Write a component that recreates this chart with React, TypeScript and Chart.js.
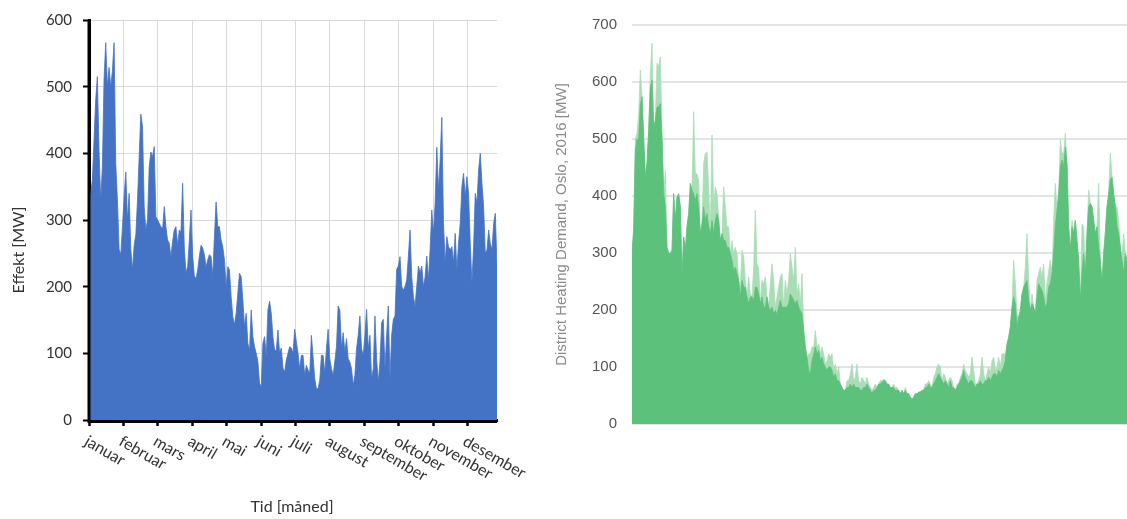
import React, { useEffect, useRef } from "react";
import { Chart, registerables } from "chart.js";

Chart.register(...registerables);

// ---------- Labels ----------
const MONTHS = [
  "januar", "februar", "mars", "april", "mai", "juni",
  "juli", "august", "september", "oktober", "november", "desember",
];
const LEFT_Y_MAX = 600;
const RIGHT_Y_MAX = 700;
const Y_STEP = 100;
const LEFT_Y_TITLE = "Effekt [MW]";
const LEFT_X_TITLE = "Tid [måned]";
const RIGHT_Y_TITLE = "District Heating Demand, Oslo, 2016 [MW]";
// the plotted span of the left axis, in months (last month is cut short)
const LEFT_SPAN_MONTHS = 11.86;

// ---------- Left chart: Effekt [MW] (blue) ----------
const LEFT_MW_JAN_JUN = [
  335, 340, 360, 420, 480, 515, 404, 330, 380, 512,
  566, 500, 529, 500, 524, 566, 385, 330, 256, 248,
  290, 335, 372, 300, 340, 256, 226, 262, 278, 330,
  395, 459, 440, 320, 285, 300, 380, 402, 395, 410,
  305, 300, 295, 290, 286, 320, 290, 270, 265, 245,
  268, 285, 290, 262, 285, 282, 355, 258, 221, 230,
  270, 315, 246, 216, 212, 225, 246, 262, 258, 248,
  230, 240, 248, 245, 216, 275, 327, 290, 290, 270,
  260, 240, 200, 230, 225, 185, 155, 143, 160, 190,
  220, 215, 180, 140, 160, 115, 104, 165, 125, 110,
  100, 88, 55, 50, 115, 125, 95, 165, 178, 160,
  125, 105, 104, 135, 100, 108, 78, 72, 90, 100,
  110, 108,
];
const LEFT_MW_JUL_DEC = [
  100, 136, 117, 100, 77, 97, 97, 67, 82, 75,
  70, 127, 95, 62, 47, 47, 60, 97, 97, 70,
  107, 136, 92, 77, 67, 88, 110, 171, 165, 108,
  131, 102, 122, 92, 87, 77, 52, 67, 107, 127,
  156, 107, 97, 127, 166, 107, 127, 62, 77, 156,
  92, 57, 87, 146, 151, 77, 127, 171, 62, 127,
  151, 156, 226, 231, 245, 200, 195, 200, 210, 246,
  285, 215, 185, 171, 200, 231, 221, 231, 200, 215,
  246, 210, 256, 315, 280, 325, 409, 345, 390, 454,
  295, 236, 275, 260, 255, 260, 236, 280, 226, 265,
  295, 350, 370, 335, 365, 340, 265, 206, 260, 340,
  325, 375, 400, 355, 320, 250, 255, 285, 265, 255,
  295, 310, 230,
];

// ---------- Right chart: District Heating Demand (green) ----------
// body (solid green)
const RIGHT_BODY_JAN_JUN = [
  300,
  340, 480, 500, 498, 560, 574, 504, 433, 457, 515,
  590, 603, 521, 533, 556, 556, 562, 504, 404, 381,
  310, 299, 299, 305, 404, 357, 398, 404, 381, 258,
  328, 305, 346, 369, 422, 410, 404, 393, 404, 381,
  334, 351, 381, 357, 369, 346, 334, 357, 334, 357,
  369, 357, 322, 334, 322, 322, 310, 310, 299, 287,
  269, 275, 264, 252, 223, 252, 240, 240, 223, 211,
  223, 223, 217, 240, 240, 228, 211, 223, 205, 205,
  223, 205, 199, 205, 193, 199, 193, 205, 217, 205,
  205, 205, 205, 211, 228, 223, 217, 211, 217, 205,
  199, 193, 164, 135, 117, 94, 88, 111, 123, 135,
  123, 129, 111, 117, 105, 100, 94, 100, 100, 94,
  82, 88, 76, 76, 70, 64, 59, 59, 64, 64,
  70, 64, 70, 64, 64, 64, 59, 59, 64, 64,
  70, 64, 59, 53, 59, 59, 64,
];
const RIGHT_BODY_JUL_DEC = [
  70, 70, 73, 76, 76, 70, 70, 64, 64, 64,
  59, 59, 59, 53, 59, 53, 59, 53, 53, 47,
  44, 47, 53, 53, 56, 56, 59, 59, 64, 64,
  70, 64, 64, 70, 76, 82, 88, 82, 76, 70,
  76, 70, 64, 76, 64, 64, 59, 64, 70, 76,
  82, 94, 82, 76, 70, 76, 76, 70, 64, 70,
  70, 76, 70, 70, 76, 76, 82, 76, 82, 88,
  88, 82, 94, 88, 94, 100, 111, 140, 152, 170,
  205, 223, 211, 170, 187, 199, 228, 240, 246, 252,
  217, 199, 211, 205, 193, 223, 246, 240, 234, 223,
  205, 211, 240, 246, 264, 299, 346, 375, 404, 451,
  463, 451, 486, 457, 346, 305, 346, 334, 357, 322,
  287, 217, 264, 299, 264, 334, 381, 387, 381, 357,
  334, 346, 310, 287, 246, 299, 334, 381, 404, 428,
  433, 404, 381, 346, 334, 310, 287, 264, 299, 287,
];
// peaks (pale green envelope behind the body)
const RIGHT_PEAK_JAN_JUN = [
  300,
  340, 500, 510, 540, 621, 574, 504, 433, 457, 515,
  615, 668, 521, 533, 633, 627, 644, 504, 404, 445,
  310, 299, 299, 305, 404, 357, 398, 404, 381, 258,
  328, 305, 346, 369, 422, 410, 548, 439, 439, 428,
  334, 351, 457, 475, 477, 416, 334, 507, 381, 416,
  404, 363, 322, 334, 416, 381, 346, 346, 299, 322,
  299, 310, 299, 252, 240, 305, 293, 252, 223, 258,
  228, 223, 275, 375, 281, 275, 211, 252, 246, 258,
  223, 205, 246, 281, 252, 205, 223, 240, 258, 264,
  205, 252, 228, 252, 299, 275, 252, 310, 228, 246,
  211, 264, 164, 135, 117, 123, 123, 135, 135, 164,
  135, 141, 123, 135, 123, 105, 111, 123, 117, 123,
  94, 105, 88, 100, 70, 64, 59, 59, 76, 76,
  88, 105, 76, 82, 105, 76, 70, 82, 76, 70,
  82, 70, 64, 59, 64, 70, 64,
];
const RIGHT_PEAK_JUL_DEC = [
  70, 76, 76, 79, 76, 70, 70, 64, 64, 70,
  64, 64, 59, 53, 59, 53, 64, 53, 53, 47,
  44, 47, 53, 53, 56, 56, 59, 59, 70, 70,
  76, 70, 64, 82, 88, 100, 105, 100, 76, 88,
  82, 70, 76, 82, 76, 64, 59, 70, 70, 82,
  88, 105, 94, 88, 82, 88, 117, 94, 70, 70,
  76, 88, 117, 88, 76, 88, 100, 88, 111, 117,
  94, 100, 117, 100, 123, 123, 123, 140, 152, 170,
  205, 287, 246, 193, 187, 199, 228, 240, 275, 334,
  252, 199, 228, 205, 193, 252, 264, 275, 258, 281,
  217, 246, 269, 287, 264, 357, 422, 375, 404, 498,
  475, 475, 510, 457, 346, 305, 357, 334, 357, 322,
  287, 217, 351, 346, 264, 334, 410, 387, 381, 357,
  334, 346, 422, 287, 246, 299, 340, 381, 404, 475,
  433, 404, 381, 381, 357, 310, 287, 334, 299, 287,
];

const LEFT_W = 540;
const RIGHT_W = 587;
const H = 519;

const leftLabelsPlugin = {
  id: "leftLabels",
  afterDatasetsDraw(chart: any) {
    // axis lines sit on top of the filled area, as in the original
    const { ctx, chartArea } = chart;
    ctx.save();
    ctx.strokeStyle = "#000000";
    ctx.lineWidth = 3;
    ctx.beginPath();
    ctx.moveTo(chartArea.left, chartArea.top);
    ctx.lineTo(chartArea.left, chartArea.bottom + 1.5);
    ctx.lineTo(chartArea.right, chartArea.bottom + 1.5);
    ctx.stroke();
    ctx.restore();
  },
  afterDraw(chart: any) {
    const { ctx } = chart;
    const xs = chart.scales.x;
    ctx.save();
    ctx.fillStyle = "#333333";
    ctx.font = "16px Lato";
    ctx.textAlign = "left";
    ctx.textBaseline = "top";
    MONTHS.forEach((m, i) => {
      const px = xs.getPixelForValue(i);
      ctx.save();
      ctx.translate(px + 1, 433);
      ctx.rotate((30 * Math.PI) / 180);
      ctx.fillText(m, 0, 0);
      ctx.restore();
    });
    ctx.textAlign = "center";
    ctx.textBaseline = "middle";
    ctx.fillText(LEFT_X_TITLE, 292, 507);
    ctx.save();
    ctx.translate(19, 250);
    ctx.rotate(-Math.PI / 2);
    ctx.fillText(LEFT_Y_TITLE, 0, 0);
    ctx.restore();
    ctx.restore();
  },
};

const rightTitlePlugin = {
  id: "rightTitle",
  afterDraw(chart: any) {
    const { ctx, chartArea } = chart;
    ctx.save();
    ctx.fillStyle = "#8a8a8a";
    ctx.font = "15px 'Liberation Sans'";
    ctx.textAlign = "center";
    ctx.textBaseline = "middle";
    ctx.translate(22, (chartArea.top + chartArea.bottom) / 2);
    ctx.rotate(-Math.PI / 2);
    ctx.fillText(RIGHT_Y_TITLE, 0, 0);
    ctx.restore();
  },
};

export default function App() {
  const leftRef = useRef<HTMLCanvasElement>(null);
  const rightRef = useRef<HTMLCanvasElement>(null);

  useEffect(() => {
    const leftValues = [...LEFT_MW_JAN_JUN, ...LEFT_MW_JUL_DEC];
    const lStep = LEFT_SPAN_MONTHS / (leftValues.length - 1);
    const left = new Chart(leftRef.current as HTMLCanvasElement, {
      type: "line",
      data: {
        datasets: [
          {
            data: leftValues.map((v, i) => ({ x: i * lStep, y: v })),
            fill: "origin",
            backgroundColor: "#4472C4",
            borderColor: "#4472C4",
            borderWidth: 0.8,
            pointRadius: 0,
            tension: 0,
          },
        ],
      },
      options: {
        responsive: false,
        animation: false,
        layout: { padding: { left: 0, top: 17, right: LEFT_W - 497, bottom: 0 } },
        plugins: { legend: { display: false }, tooltip: { enabled: false } },
        scales: {
          x: {
            type: "linear",
            min: 0,
            max: LEFT_SPAN_MONTHS,
            afterBuildTicks: (s: any) => {
              s.ticks = MONTHS.map((_, i) => ({ value: i }));
            },
            afterFit: (s: any) => {
              s.height = H - 420;
            },
            ticks: { display: false },
            grid: {
              color: "#d9d9d9",
              lineWidth: 1,
              drawTicks: true,
              tickLength: 6,
              tickColor: "#000000",
              tickWidth: 2.5,
            },
            border: { display: true, color: "#000000", width: 3 },
          },
          y: {
            min: 0,
            max: LEFT_Y_MAX,
            afterFit: (s: any) => {
              s.width = 89;
            },
            ticks: {
              stepSize: Y_STEP,
              font: { family: "Lato", size: 15 },
              color: "#333333",
              padding: 11,
            },
            grid: {
              color: "#d9d9d9",
              lineWidth: 1,
              tickLength: 6,
              tickColor: "#000000",
              tickWidth: 2,
            },
            border: { display: true, color: "#000000", width: 3 },
          },
        },
      },
      plugins: [leftLabelsPlugin],
    } as any);

    const body = [...RIGHT_BODY_JAN_JUN, ...RIGHT_BODY_JUL_DEC];
    const peak = [...RIGHT_PEAK_JAN_JUN, ...RIGHT_PEAK_JUL_DEC];
    const right = new Chart(rightRef.current as HTMLCanvasElement, {
      type: "line",
      data: {
        datasets: [
          {
            data: body.map((v, i) => ({ x: i, y: v })),
            fill: "origin",
            backgroundColor: "#5CC17A",
            borderColor: "#5CC17A",
            borderWidth: 0.8,
            pointRadius: 0,
            tension: 0,
          },
          {
            data: peak.map((v, i) => ({ x: i, y: v })),
            fill: "origin",
            backgroundColor: "#A9DDB6",
            borderColor: "#A9DDB6",
            borderWidth: 0.8,
            pointRadius: 0,
            tension: 0,
          },
        ],
      },
      options: {
        responsive: false,
        animation: false,
        layout: { padding: { left: 0, top: 25, right: 0, bottom: H - 424 } },
        plugins: { legend: { display: false }, tooltip: { enabled: false } },
        scales: {
          x: { type: "linear", display: false, min: 0, max: body.length - 1 },
          y: {
            min: 0,
            max: RIGHT_Y_MAX,
            afterFit: (s: any) => {
              s.width = 92;
            },
            ticks: {
              stepSize: Y_STEP,
              font: { family: "'Liberation Sans'", size: 15 },
              color: "#555555",
              padding: 15,
            },
            grid: { color: "#e4e4e4", lineWidth: 2, drawTicks: false },
            border: { display: false },
          },
        },
      },
      plugins: [rightTitlePlugin],
    } as any);

    return () => {
      left.destroy();
      right.destroy();
    };
  }, []);

  return (
    <div
      style={{
        position: "fixed",
        left: 0,
        top: 0,
        width: LEFT_W + RIGHT_W,
        height: H,
        background: "#ffffff",
        overflow: "hidden",
      }}
    >
      <canvas
        ref={leftRef}
        width={LEFT_W}
        height={H}
        style={{ position: "absolute", left: 0, top: 0, width: LEFT_W, height: H }}
      />
      <canvas
        ref={rightRef}
        width={RIGHT_W}
        height={H}
        style={{ position: "absolute", left: LEFT_W, top: 0, width: RIGHT_W, height: H }}
      />
    </div>
  );
}
